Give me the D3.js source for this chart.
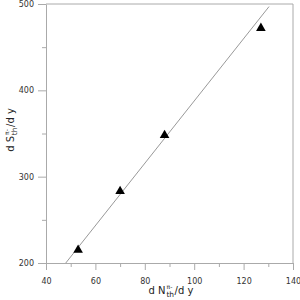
<!DOCTYPE html>
<html>
<head>
<meta charset="utf-8">
<script src="https://cdn.jsdelivr.net/npm/d3@7"></script>
<style>
  body { margin: 0; background: #fff; }
  svg { display: block; }
  .tick text { font-family: "DejaVu Sans", sans-serif; font-size: 8px; fill: #333; }
  .axisTitle { font-family: "DejaVu Sans", sans-serif; font-size: 10px; fill: #222; }
</style>
</head>
<body>
<div id="chart"></div>
<script>
// measured points
const xValues = [53, 70, 88, 127];
const yValues = [215, 283, 348, 472];
// fitted line end points
const fitX = [48, 130.3];
const fitY = [200, 497];
const xTicks = [40, 60, 80, 100, 120, 140];
const yTicks = [200, 300, 400, 500];

const margin = {top: 4, right: 7, bottom: 37, left: 46};
const width = 300 - margin.left - margin.right;
const height = 300 - margin.top - margin.bottom;
const axisColor = "#aaa";

const svg = d3.select("#chart")
    .append("svg")
    .attr("width", 300)
    .attr("height", 300)
    .append("g")
    .attr("transform", `translate(${margin.left}, ${margin.top})`);

const x = d3.scaleLinear().domain([40, 140]).range([0, width]);
const y = d3.scaleLinear().domain([200, 500]).range([height, 0]);

// minor ticks
svg.append("g")
    .attr("transform", `translate(0, ${height})`)
    .call(d3.axisBottom(x).tickValues(d3.range(50, 140, 20)).tickSize(4).tickFormat(""))
    .call(g => g.select(".domain").remove())
    .call(g => g.selectAll("line").attr("stroke", axisColor));
svg.append("g")
    .call(d3.axisLeft(y).tickValues([250, 350, 450]).tickSize(4).tickFormat(""))
    .call(g => g.select(".domain").remove())
    .call(g => g.selectAll("line").attr("stroke", axisColor));

// major axes
svg.append("g")
    .attr("transform", `translate(0, ${height})`)
    .call(d3.axisBottom(x).tickValues(xTicks).tickSize(7).tickSizeOuter(0).tickPadding(8))
    .call(g => g.select(".domain").attr("stroke", axisColor))
    .call(g => g.selectAll("line").attr("stroke", axisColor));
svg.append("g")
    .call(d3.axisLeft(y).tickValues(yTicks).tickSize(8).tickSizeOuter(0).tickPadding(4))
    .call(g => g.select(".domain").attr("stroke", axisColor))
    .call(g => g.selectAll("line").attr("stroke", axisColor));

// frame top and right
svg.append("line").attr("x1", 0).attr("x2", width).attr("y1", 0).attr("y2", 0).attr("stroke", axisColor);
svg.append("line").attr("x1", width).attr("x2", width).attr("y1", 0).attr("y2", height).attr("stroke", axisColor);

// fit line
svg.append("line")
    .attr("x1", x(fitX[0])).attr("y1", y(fitY[0]))
    .attr("x2", x(fitX[1])).attr("y2", y(fitY[1]))
    .attr("stroke", "#999")
    .attr("stroke-width", 1);

// triangles
svg.selectAll(".pt")
    .data(xValues.map((d, i) => [d, yValues[i]]))
    .join("path")
    .attr("class", "pt")
    .attr("transform", d => `translate(${x(d[0])}, ${y(d[1])})`)
    .attr("d", d3.symbol(d3.symbolTriangle, 40))
    .attr("fill", "#000");

// axis titles with super/subscripts
function addTitle(sel, base) {
    sel.append("tspan").text(base);
    sel.append("tspan").attr("font-size", "6px").attr("dy", -5).attr("dx", 1).text("π-");
    sel.append("tspan").attr("font-size", "7.5px").attr("dy", 8).attr("dx", -6).text("th");
    sel.append("tspan").attr("dy", -3).attr("dx", 0.5).text("/d y");
}

const xt = svg.append("text")
    .attr("class", "axisTitle")
    .attr("x", 125)
    .attr("y", height + 31)
    .attr("text-anchor", "middle");
addTitle(xt, "d N");

const yt = svg.append("text")
    .attr("class", "axisTitle")
    .attr("transform", `translate(-32, 126) rotate(-90)`)
    .attr("text-anchor", "middle");
addTitle(yt, "d S");
</script>
</body>
</html>
